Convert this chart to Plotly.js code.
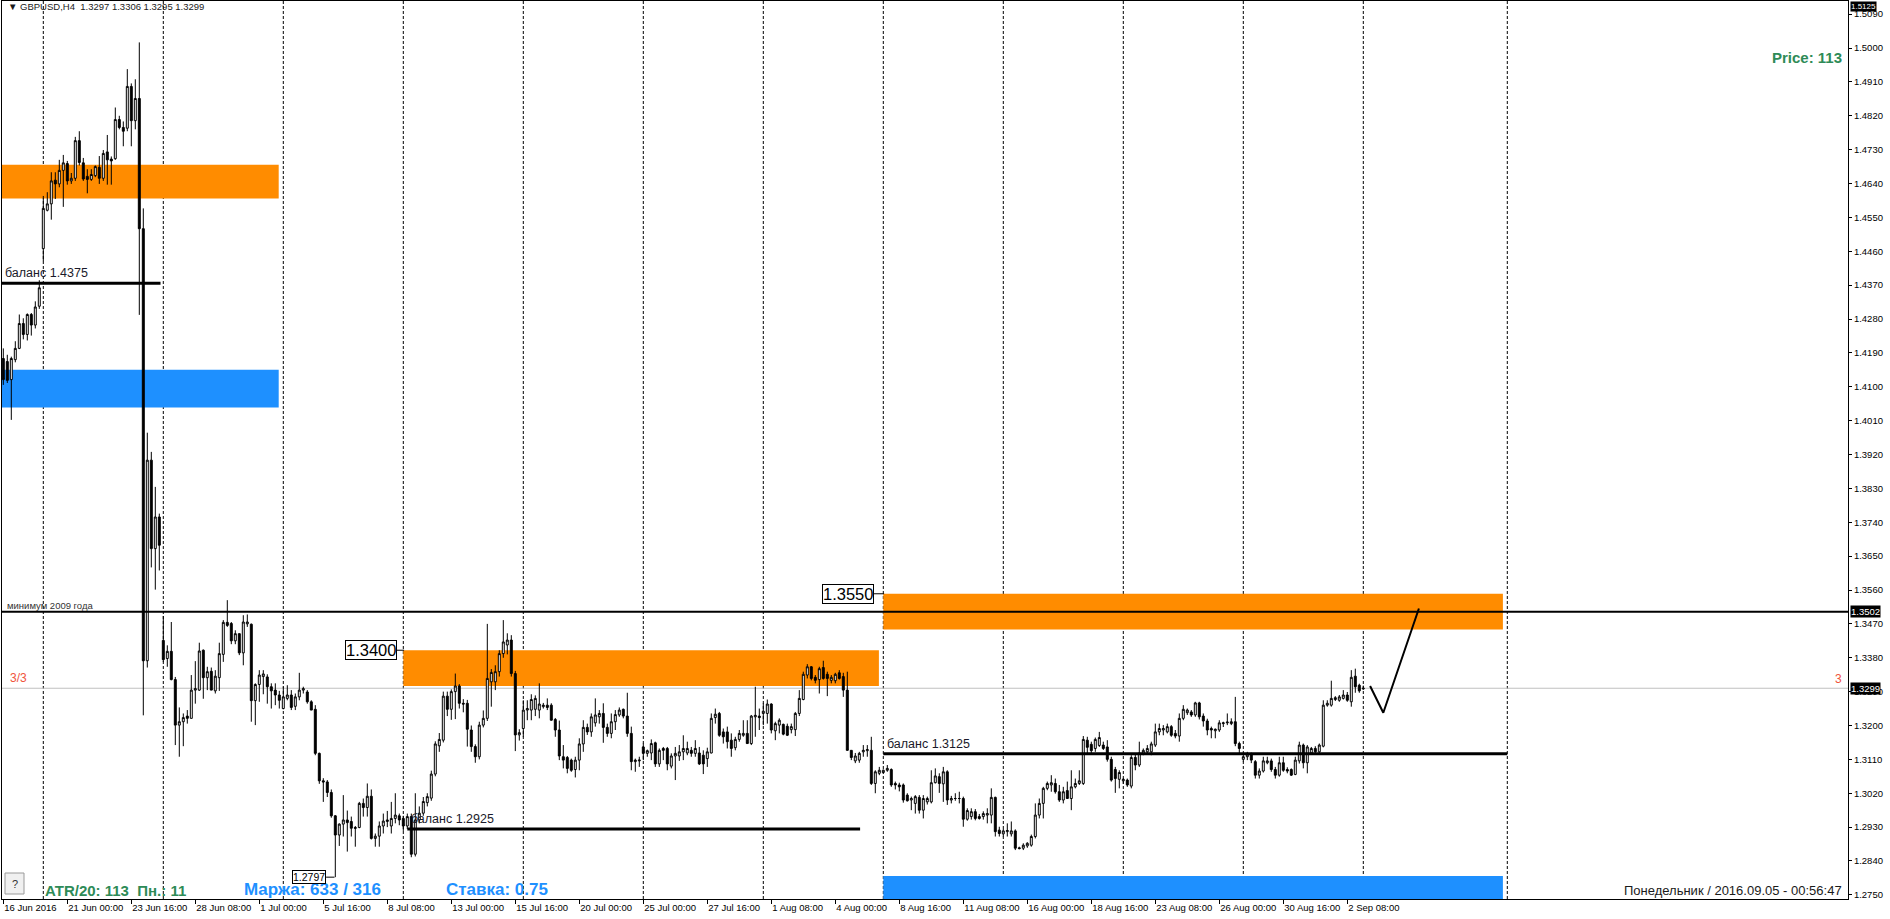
<!DOCTYPE html>
<html><head><meta charset="utf-8">
<script src="https://cdn.plot.ly/plotly-3.0.1.min.js"></script>
<style>html,body{margin:0;padding:0;background:#fff;overflow:hidden}#chart{width:1890px;height:919px}</style>
</head><body><div id="chart"></div>
<script>
// GBPUSD H4 candles, bar 0 = 16 Jun 2016 08:00, one bar every 4 hours (trading time)
const openP = [
1.4175,1.4167,1.4119,1.4172,1.4202,1.4268,1.4239,1.4292,1.4264,1.4314,
1.4467,1.4569,1.4586,1.4649,1.4639,1.4675,1.4693,1.4647,1.4654,1.4754,
1.4695,1.4659,1.4651,1.4661,1.4683,1.4654,1.4724,1.4705,1.4706,1.4810,
1.4789,1.4787,1.4898,1.4807,1.4866,1.4520,1.3372,1.3905,1.3670,1.3754,
1.3426,1.3378,1.3397,1.3322,1.3201,1.3210,1.3225,1.3219,1.3294,1.3294,
1.3400,1.3327,1.3344,1.3292,1.3327,1.3389,1.3474,1.3471,1.3425,1.3444,
1.3393,1.3470,1.3469,1.3266,1.3309,1.3330,1.3329,1.3303,1.3294,1.3281,
1.3245,1.3272,1.3281,1.3251,1.3276,1.3294,1.3289,1.3263,1.3243,1.3126,
1.3053,1.3050,1.3022,1.2960,1.2909,1.2938,1.2949,1.2945,1.2929,1.2929,
1.2993,1.2982,1.3012,1.2900,1.2906,1.2933,1.2945,1.2933,1.2953,1.2960,
1.2953,1.2933,1.2958,1.2858,1.2949,1.2967,1.2995,1.3007,1.3071,1.3146,
1.3161,1.3278,1.3243,1.3290,1.3305,1.3259,1.3259,1.3188,1.3144,1.3117,
1.3201,1.3219,1.3316,1.3316,1.3343,1.3391,1.3414,1.3427,1.3338,1.3175,
1.3192,1.3241,1.3241,1.3243,1.3241,1.3250,1.3254,1.3254,1.3216,1.3188,
1.3117,1.3115,1.3108,1.3083,1.3108,1.3151,1.3195,1.3183,1.3207,1.3223,
1.3232,1.3195,1.3179,1.3210,1.3228,1.3243,1.3225,1.3179,1.3104,1.3106,
1.3143,1.3126,1.3127,1.3154,1.3098,1.3139,1.3139,1.3092,1.3119,1.3119,
1.3130,1.3127,1.3134,1.3126,1.3127,1.3121,1.3112,1.3127,1.3221,1.3232,
1.3183,1.3183,1.3161,1.3141,1.3163,1.3174,1.3179,1.3152,1.3223,1.3225,
1.3232,1.3232,1.3257,1.3186,1.3201,1.3203,1.3198,1.3189,1.3189,1.3232,
1.3269,1.3334,1.3356,1.3328,1.3322,1.3354,1.3336,1.3320,1.3319,1.3340,
1.3330,1.3294,1.3134,1.3106,1.3108,1.3130,1.3133,1.3134,1.3046,1.3073,
1.3075,1.3081,1.3083,1.3046,1.3042,1.3042,1.3015,1.3002,1.2993,1.3009,
1.2975,1.2997,1.2997,1.3048,1.3064,1.3045,1.3077,1.3002,1.3006,1.3006,
1.3006,1.2951,1.2958,1.2971,1.2958,1.2958,1.2962,1.2962,1.3009,1.2922,
1.2912,1.2918,1.2912,1.2920,1.2875,1.2874,1.2880,1.2882,1.2905,1.2962,
1.2993,1.3033,1.3042,1.3046,1.3024,1.3002,1.3027,1.3006,1.3037,1.3046,
1.3046,1.3161,1.3150,1.3139,1.3147,1.3148,1.3143,1.3110,1.3083,1.3057,
1.3053,1.3055,1.3039,1.3115,1.3095,1.3126,1.3130,1.3130,1.3148,1.3183,
1.3188,1.3183,1.3197,1.3179,1.3172,1.3219,1.3234,1.3236,1.3228,1.3260,
1.3225,1.3212,1.3192,1.3186,1.3188,1.3205,1.3207,1.3205,1.3210,1.3152,
1.3110,1.3117,1.3124,1.3104,1.3068,1.3079,1.3101,1.3106,1.3083,1.3068,
1.3101,1.3083,1.3083,1.3070,1.3106,1.3148,1.3101,1.3127,1.3139,1.3130,
1.3145,1.3254,1.3254,1.3269,1.3267,1.3272,1.3281,1.3263,1.3331,1.3307,1.3297];
const highP = [
1.4202,1.4185,1.4180,1.4221,1.4292,1.4282,1.4295,1.4296,1.4327,1.4383,
1.4607,1.4617,1.4670,1.4670,1.4703,1.4716,1.4700,1.4668,1.4764,1.4779,
1.4708,1.4678,1.4678,1.4688,1.4713,1.4729,1.4769,1.4712,1.4842,1.4820,
1.4805,1.4944,1.4906,1.4917,1.5015,1.4574,1.3978,1.3927,1.3834,1.3763,
1.3491,1.3413,1.3475,1.3329,1.3248,1.3232,1.3241,1.3334,1.3371,1.3420,
1.3402,1.3356,1.3354,1.3347,1.3420,1.3480,1.3533,1.3475,1.3453,1.3444,
1.3493,1.3495,1.3471,1.3312,1.3347,1.3347,1.3336,1.3312,1.3312,1.3292,
1.3303,1.3307,1.3294,1.3285,1.3340,1.3303,1.3294,1.3267,1.3254,1.3128,
1.3060,1.3055,1.3030,1.2962,1.2940,1.3015,1.2974,1.2958,1.2933,1.2997,
1.3006,1.3046,1.3030,1.2913,1.2945,1.2966,1.2973,1.2997,1.3020,1.2966,
1.2960,1.2966,1.2966,1.3020,1.2985,1.3010,1.3020,1.3080,1.3158,1.3180,
1.3290,1.3290,1.3296,1.3338,1.3310,1.3270,1.3268,1.3200,1.3150,1.3210,
1.3240,1.3470,1.3350,1.3360,1.3400,1.3480,1.3445,1.3440,1.3345,1.3190,
1.3267,1.3267,1.3283,1.3280,1.3312,1.3260,1.3272,1.3259,1.3220,1.3213,
1.3148,1.3119,1.3112,1.3117,1.3166,1.3214,1.3205,1.3232,1.3272,1.3241,
1.3259,1.3205,1.3232,1.3241,1.3248,1.3245,1.3287,1.3197,1.3112,1.3117,
1.3152,1.3136,1.3163,1.3157,1.3139,1.3143,1.3143,1.3126,1.3143,1.3148,
1.3174,1.3157,1.3143,1.3161,1.3143,1.3134,1.3141,1.3232,1.3245,1.3236,
1.3192,1.3197,1.3179,1.3170,1.3188,1.3214,1.3214,1.3228,1.3303,1.3245,
1.3259,1.3269,1.3259,1.3210,1.3219,1.3205,1.3205,1.3205,1.3236,1.3294,
1.3343,1.3363,1.3358,1.3334,1.3356,1.3372,1.3343,1.3334,1.3340,1.3347,
1.3340,1.3343,1.3134,1.3127,1.3130,1.3148,1.3148,1.3170,1.3081,1.3090,
1.3083,1.3095,1.3086,1.3051,1.3048,1.3046,1.3020,1.3011,1.3015,1.3015,
1.3015,1.3011,1.3081,1.3086,1.3073,1.3090,1.3081,1.3013,1.3020,1.3024,
1.3011,1.2980,1.2980,1.2978,1.2965,1.2972,1.2980,1.3033,1.3011,1.2931,
1.2925,1.2940,1.2945,1.2924,1.2878,1.2887,1.2890,1.2910,1.2993,1.3006,
1.3037,1.3051,1.3068,1.3059,1.3042,1.3037,1.3051,1.3081,1.3059,1.3081,
1.3172,1.3170,1.3157,1.3168,1.3183,1.3157,1.3161,1.3117,1.3090,1.3081,
1.3060,1.3059,1.3121,1.3126,1.3157,1.3139,1.3148,1.3157,1.3205,1.3205,
1.3201,1.3205,1.3201,1.3188,1.3232,1.3254,1.3245,1.3241,1.3263,1.3263,
1.3232,1.3218,1.3197,1.3192,1.3214,1.3210,1.3232,1.3219,1.3276,1.3157,
1.3126,1.3130,1.3128,1.3108,1.3086,1.3117,1.3117,1.3112,1.3090,1.3117,
1.3117,1.3089,1.3086,1.3117,1.3157,1.3152,1.3148,1.3143,1.3145,1.3152,
1.3267,1.3267,1.3319,1.3278,1.3281,1.3294,1.3289,1.3347,1.3351,1.3311,1.3306];
const lowP = [
1.4105,1.4110,1.4012,1.4165,1.4200,1.4226,1.4223,1.4236,1.4255,1.4307,
1.4434,1.4566,1.4544,1.4599,1.4630,1.4578,1.4637,1.4639,1.4647,1.4688,
1.4647,1.4614,1.4647,1.4657,1.4639,1.4647,1.4637,1.4637,1.4703,1.4784,
1.4739,1.4779,1.4739,1.4784,1.4291,1.3227,1.3354,1.3620,1.3561,1.3612,
1.3369,1.3356,1.3320,1.3148,1.3117,1.3145,1.3205,1.3219,1.3258,1.3292,
1.3271,1.3294,1.3294,1.3285,1.3292,1.3369,1.3462,1.3416,1.3416,1.3387,
1.3360,1.3462,1.3210,1.3201,1.3263,1.3283,1.3258,1.3245,1.3254,1.3245,
1.3243,1.3267,1.3241,1.3241,1.3267,1.3285,1.3258,1.3241,1.3121,1.3045,
1.2997,1.3010,1.2955,1.2797,1.2880,1.2905,1.2865,1.2905,1.2878,1.2927,
1.2958,1.2958,1.2897,1.2878,1.2878,1.2913,1.2930,1.2913,1.2940,1.2935,
1.2920,1.2925,1.2850,1.2852,1.2940,1.2960,1.2985,1.3000,1.3065,1.3130,
1.3155,1.3225,1.3215,1.3217,1.3245,1.3235,1.3144,1.3130,1.3101,1.3110,
1.3195,1.3212,1.3250,1.3294,1.3330,1.3380,1.3389,1.3330,1.3132,1.3160,
1.3170,1.3214,1.3214,1.3225,1.3219,1.3245,1.3241,1.3213,1.3170,1.3108,
1.3086,1.3073,1.3077,1.3062,1.3081,1.3130,1.3175,1.3170,1.3197,1.3205,
1.3154,1.3170,1.3166,1.3188,1.3223,1.3219,1.3170,1.3081,1.3077,1.3090,
1.3108,1.3117,1.3108,1.3090,1.3090,1.3108,1.3081,1.3086,1.3055,1.3106,
1.3108,1.3121,1.3117,1.3117,1.3095,1.3071,1.3090,1.3126,1.3205,1.3170,
1.3152,1.3139,1.3117,1.3134,1.3157,1.3170,1.3151,1.3148,1.3170,1.3188,
1.3201,1.3205,1.3179,1.3161,1.3179,1.3174,1.3172,1.3179,1.3172,1.3225,
1.3267,1.3325,1.3320,1.3312,1.3285,1.3322,1.3278,1.3312,1.3312,1.3322,
1.3276,1.3133,1.3108,1.3100,1.3101,1.3117,1.3117,1.3042,1.3020,1.3068,
1.3073,1.3077,1.3037,1.3030,1.3025,1.2995,1.2998,1.2975,1.2966,1.2966,
1.2953,1.2990,1.2993,1.3046,1.3021,1.2997,1.2989,1.2993,1.3000,1.2993,
1.2931,1.2947,1.2950,1.2948,1.2950,1.2950,1.2940,1.2940,1.2905,1.2905,
1.2905,1.2905,1.2905,1.2869,1.2871,1.2869,1.2875,1.2878,1.2900,1.2953,
1.2953,1.3028,1.3024,1.3019,1.2997,1.2993,1.3006,1.2975,1.3033,1.3042,
1.3042,1.3126,1.3126,1.3130,1.3143,1.3135,1.3104,1.3051,1.3021,1.3033,
1.3045,1.3037,1.3033,1.3081,1.3090,1.3121,1.3126,1.3121,1.3143,1.3174,
1.3174,1.3179,1.3170,1.3166,1.3157,1.3214,1.3228,1.3223,1.3223,1.3216,
1.3197,1.3174,1.3166,1.3166,1.3183,1.3196,1.3201,1.3201,1.3145,1.3126,
1.3104,1.3108,1.3100,1.3059,1.3059,1.3075,1.3097,1.3077,1.3059,1.3064,
1.3077,1.3073,1.3066,1.3068,1.3099,1.3086,1.3073,1.3125,1.3125,1.3126,
1.3142,1.3250,1.3250,1.3265,1.3263,1.3269,1.3263,1.3250,1.3287,1.3287,1.3295];
const closeP = [
1.4119,1.4117,1.4175,1.4202,1.4268,1.4239,1.4292,1.4264,1.4312,1.4363,
1.4574,1.4586,1.4647,1.4639,1.4675,1.4695,1.4647,1.4654,1.4754,1.4696,
1.4652,1.4651,1.4664,1.4685,1.4654,1.4720,1.4703,1.4700,1.4810,1.4789,
1.4779,1.4898,1.4807,1.4866,1.4520,1.3372,1.3905,1.3670,1.3754,1.3679,
1.3375,1.3397,1.3322,1.3201,1.3210,1.3221,1.3219,1.3294,1.3298,1.3398,
1.3327,1.3343,1.3294,1.3331,1.3391,1.3474,1.3466,1.3425,1.3444,1.3393,
1.3475,1.3475,1.3266,1.3309,1.3334,1.3337,1.3303,1.3292,1.3281,1.3267,
1.3276,1.3281,1.3248,1.3276,1.3294,1.3298,1.3263,1.3241,1.3126,1.3053,
1.3050,1.3022,1.2960,1.2909,1.2938,1.2949,1.2942,1.2927,1.2927,1.2993,
1.2982,1.3012,1.2900,1.2906,1.2933,1.2946,1.2949,1.2953,1.2962,1.2949,
1.2933,1.2958,1.2858,1.2949,1.2967,1.2998,1.3011,1.3071,1.3151,1.3163,
1.3278,1.3243,1.3290,1.3305,1.3259,1.3257,1.3190,1.3144,1.3117,1.3201,
1.3219,1.3325,1.3341,1.3343,1.3391,1.3422,1.3427,1.3338,1.3175,1.3181,
1.3241,1.3245,1.3269,1.3272,1.3257,1.3254,1.3248,1.3214,1.3188,1.3119,
1.3108,1.3086,1.3081,1.3108,1.3151,1.3195,1.3183,1.3223,1.3228,1.3232,
1.3195,1.3179,1.3210,1.3229,1.3241,1.3225,1.3179,1.3104,1.3108,1.3108,
1.3126,1.3133,1.3152,1.3098,1.3134,1.3134,1.3098,1.3119,1.3126,1.3130,
1.3139,1.3139,1.3126,1.3139,1.3098,1.3098,1.3130,1.3219,1.3230,1.3174,
1.3170,1.3157,1.3139,1.3163,1.3179,1.3179,1.3152,1.3225,1.3227,1.3221,
1.3238,1.3257,1.3188,1.3205,1.3214,1.3177,1.3174,1.3197,1.3232,1.3272,
1.3336,1.3356,1.3325,1.3320,1.3351,1.3325,1.3325,1.3328,1.3336,1.3325,
1.3294,1.3134,1.3115,1.3119,1.3126,1.3134,1.3136,1.3046,1.3077,1.3081,
1.3081,1.3086,1.3042,1.3042,1.3037,1.3002,1.3000,1.3006,1.3011,1.2975,
1.3006,1.3006,1.3048,1.3066,1.3046,1.3077,1.3002,1.3006,1.3006,1.3006,
1.2951,1.2974,1.2971,1.2953,1.2953,1.2966,1.2966,1.3009,1.2918,1.2913,
1.2920,1.2921,1.2920,1.2874,1.2873,1.2882,1.2887,1.2905,1.2962,1.2993,
1.3033,1.3046,1.3048,1.3024,1.3002,1.3024,1.3006,1.3037,1.3046,1.3053,
1.3163,1.3142,1.3133,1.3163,1.3168,1.3139,1.3110,1.3055,1.3059,1.3075,
1.3057,1.3042,1.3115,1.3095,1.3127,1.3134,1.3139,1.3151,1.3183,1.3192,
1.3192,1.3197,1.3174,1.3172,1.3219,1.3243,1.3241,1.3228,1.3260,1.3223,
1.3212,1.3188,1.3188,1.3190,1.3207,1.3207,1.3209,1.3210,1.3152,1.3139,
1.3117,1.3124,1.3108,1.3068,1.3079,1.3106,1.3106,1.3083,1.3068,1.3101,
1.3081,1.3079,1.3068,1.3108,1.3148,1.3101,1.3143,1.3139,1.3130,1.3148,
1.3254,1.3259,1.3272,1.3274,1.3276,1.3281,1.3267,1.3328,1.3303,1.3292,1.3299];

// time axis labels (bar index where each label sits)
const tickBars = [0,16,32,48,64,80,96,112,128,144,160,176,192,208,224,240,256,272,288,304,320,336];
const tickLabels = ["16 Jun 2016","21 Jun 00:00","23 Jun 16:00","28 Jun 08:00","1 Jul 00:00","5 Jul 16:00",
  "8 Jul 08:00","13 Jul 00:00","15 Jul 16:00","20 Jul 00:00","25 Jul 00:00","27 Jul 16:00","1 Aug 08:00",
  "4 Aug 00:00","8 Aug 16:00","11 Aug 08:00","16 Aug 00:00","18 Aug 16:00","23 Aug 08:00","26 Aug 00:00",
  "30 Aug 16:00","2 Sep 08:00"];
// weekly period separators (bar index)
const separatorBars = [10,40,70,100,130,160,190,220,250,280,310,340,376];

// zones (rectangles)
const zoneStart = [-0.4, -0.4, 100, 220, 220];
const zoneEnd   = [68.85, 68.85, 218.9, 374.9, 374.9];
const zoneLow   = [1.4600, 1.4045, 1.3305, 1.3455, 1.2700];
const zoneHigh  = [1.4690, 1.4145, 1.3400, 1.3550, 1.2800];
const zoneColor = ["#ff8c00", "#1e90ff", "#ff8c00", "#ff8c00", "#1e90ff"];

// balance lines
const balanceLevel = [1.4375, 1.2925, 1.3125];
const balanceStart = [-0.4, 101, 220];
const balanceEnd   = [39.3, 214.2, 376];
const balanceText  = ["баланс 1.4375", "баланс 1.2925", "баланс 1.3125"];

const min2009 = 1.3502;
const bidPrice = 1.3299;
const topPrice = 1.5125;
const lowLabel = 1.2797;

// forecast path
const forecastX = [341.7, 345.0, 353.9];
const forecastY = [1.3305, 1.3234, 1.3511];

const xIdx = openP.map((_, i) => i);

const FONT = "Liberation Sans, Arial, sans-serif";
const W = 1890, H = 919, L = 2, R = 42, T = 1, B = 20;
const pw = W - L - R, ph = H - T - B;
const px = x => (x - L) / pw;
const py = y => 1 - (y - T) / ph;

const shapes = [];
zoneStart.forEach((s, k) => shapes.push({type:"rect", xref:"x", yref:"y", x0:s, x1:zoneEnd[k],
  y0:zoneLow[k], y1:zoneHigh[k], fillcolor:zoneColor[k], line:{width:0}, layer:"below"}));
separatorBars.forEach(b => shapes.push({type:"line", xref:"x", yref:"paper", x0:b, x1:b, y0:0, y1:1,
  line:{color:"#000", width:1, dash:"3px,2px"}, layer:"below"}));
shapes.push({type:"line", xref:"paper", yref:"y", x0:0, x1:1, y0:bidPrice, y1:bidPrice,
  line:{color:"#c0c0c0", width:1}, layer:"below"});
shapes.push({type:"line", xref:"paper", yref:"y", x0:0, x1:1, y0:min2009, y1:min2009,
  line:{color:"#000", width:2}});
balanceLevel.forEach((v, k) => shapes.push({type:"line", xref:"x", yref:"y", x0:balanceStart[k], x1:balanceEnd[k],
  y0:v, y1:v, line:{color:"#000", width:3}}));
// pointers of price labels
shapes.push({type:"line", xref:"x", yref:"y", x0:98.4, x1:100.2, y0:zoneHigh[2], y1:zoneHigh[2], line:{color:"#000", width:1}});
shapes.push({type:"line", xref:"x", yref:"y", x0:217.6, x1:220.2, y0:zoneHigh[3], y1:zoneHigh[3], line:{color:"#000", width:1}});
shapes.push({type:"line", xref:"x", yref:"y", x0:80.7, x1:82.8, y0:lowLabel, y1:lowLabel, line:{color:"#000", width:1}});
// help button
shapes.push({type:"rect", xref:"paper", yref:"paper", x0:px(5), x1:px(24), y0:py(894), y1:py(873),
  fillcolor:"#f0f0f0", line:{color:"#9a9a9a", width:1}});

const ann = [];
const textAt = (x, y, text, o = {}) => ann.push(Object.assign({xref:"paper", yref:"paper", x:px(x), y:py(y),
  text, showarrow:false, xanchor:"left", yanchor:"middle", font:{family:FONT, size:10, color:"#1a1a1a"}}, o));

textAt(6, 7, "▼ GBPUSD,H4\u00a0\u00a01.3297 1.3306 1.3295 1.3299", {font:{family:FONT, size:9.5, color:"#1a1a1a"}});
textAt(1844, 57, "<b>Price: 113</b>", {xanchor:"right", font:{family:FONT, size:15, color:"#2e8b57"}});
textAt(5, 605, "минимум 2009 года", {font:{family:FONT, size:9.5, color:"#333"}});
textAt(8, 678, "3/3", {font:{family:FONT, size:12, color:"#f0553c"}});
textAt(1844, 679, "3", {xanchor:"right", font:{family:FONT, size:12, color:"#f0553c"}});
textAt(14.5, 884, "?", {xanchor:"center", font:{family:FONT, size:11, color:"#333"}});
textAt(43, 890, "<b>ATR/20: 113\u00a0\u00a0Пн.: 11</b>", {font:{family:FONT, size:15, color:"#2e8b57"}});
textAt(242, 889, "<b>Маржа: 633 / 316</b>", {font:{family:FONT, size:17, color:"#1e90ff"}});
textAt(444, 889, "<b>Ставка: 0.75</b>", {font:{family:FONT, size:17, color:"#1e90ff"}});
textAt(1844, 890, "Понедельник / 2016.09.05 - 00:56:47", {xanchor:"right", font:{family:FONT, size:13, color:"#1a1a1a"}});

// balance labels
balanceLevel.forEach((v, k) => ann.push({xref:"x", yref:"y", x:balanceStart[k] + 0.3, y:v, yanchor:"bottom", xanchor:"left",
  yshift:1, text:balanceText[k], showarrow:false, font:{family:FONT, size:12.5, color:"#1a1a2a"}}));
// boxed price labels
ann.push({xref:"x", yref:"y", x:98.4, y:zoneHigh[2], xanchor:"right", yanchor:"middle", text:"1.3400", showarrow:false,
  bgcolor:"#fff", bordercolor:"#000", borderwidth:1, borderpad:0, font:{family:FONT, size:16.5, color:"#000"}});
ann.push({xref:"x", yref:"y", x:217.6, y:zoneHigh[3], xanchor:"right", yanchor:"middle", text:"1.3550", showarrow:false,
  bgcolor:"#fff", bordercolor:"#000", borderwidth:1, borderpad:0, font:{family:FONT, size:16.5, color:"#000"}});
ann.push({xref:"x", yref:"y", x:80.7, y:lowLabel, xanchor:"right", yanchor:"middle", text:"1.2797", showarrow:false,
  bgcolor:"#fff", bordercolor:"#000", borderwidth:1, borderpad:0, font:{family:FONT, size:10.5, color:"#000"}});
// axis price boxes
[min2009, bidPrice].forEach(v => ann.push({xref:"paper", yref:"y", x:1, xshift:2, y:v, xanchor:"left",
  yanchor:"middle", text:v.toFixed(4), showarrow:false, bgcolor:"#000", borderpad:0,
  font:{family:FONT, size:9.5, color:"#fff"}}));
ann.push({xref:"paper", yref:"y", x:1, xshift:2, y:topPrice, xanchor:"left", yanchor:"top",
  text:topPrice.toFixed(4), showarrow:false, bgcolor:"#000", borderpad:0,
  font:{family:FONT, size:8, color:"#fff"}});

const traces = [
  {type:"candlestick", x:xIdx, open:openP, high:highP, low:lowP, close:closeP,
   increasing:{line:{color:"#000", width:1}, fillcolor:"#fff"},
   decreasing:{line:{color:"#000", width:1}, fillcolor:"#000"},
   whiskerwidth:0, hoverinfo:"skip", showlegend:false},
  {type:"scatter", mode:"lines", x:forecastX, y:forecastY, line:{color:"#000", width:2},
   hoverinfo:"skip", showlegend:false}
];

const layout = {
  width:W, height:H, margin:{l:L, r:R, t:T, b:B, pad:0},
  paper_bgcolor:"#fff", plot_bgcolor:"#fff", showlegend:false, hovermode:false,
  font:{family:FONT, size:9.5, color:"#000"},
  boxgap:0.3,
  xaxis:{type:"linear", range:[-0.325, 461.175], rangeslider:{visible:false}, showgrid:false, zeroline:false,
    showline:true, mirror:true, linecolor:"#000", linewidth:1,
    tickmode:"array", tickvals:tickBars, ticktext:tickLabels, ticks:"outside", ticklen:4, tickcolor:"#000",
    tickangle:0, ticklabelposition:"outside right", tickfont:{family:FONT, size:9.5, color:"#000"}},
  yaxis:{side:"right", range:[1.2739, topPrice], showgrid:false, zeroline:false,
    showline:true, mirror:true, linecolor:"#000", linewidth:1,
    tick0:1.2750, dtick:0.009, tickformat:".4f", ticks:"outside", ticklen:3, tickcolor:"#000",
    tickfont:{family:FONT, size:9.5, color:"#000"}},
  shapes, annotations:ann
};

Plotly.newPlot("chart", traces, layout, {staticPlot:true, displayModeBar:false});
</script>
</body></html>
